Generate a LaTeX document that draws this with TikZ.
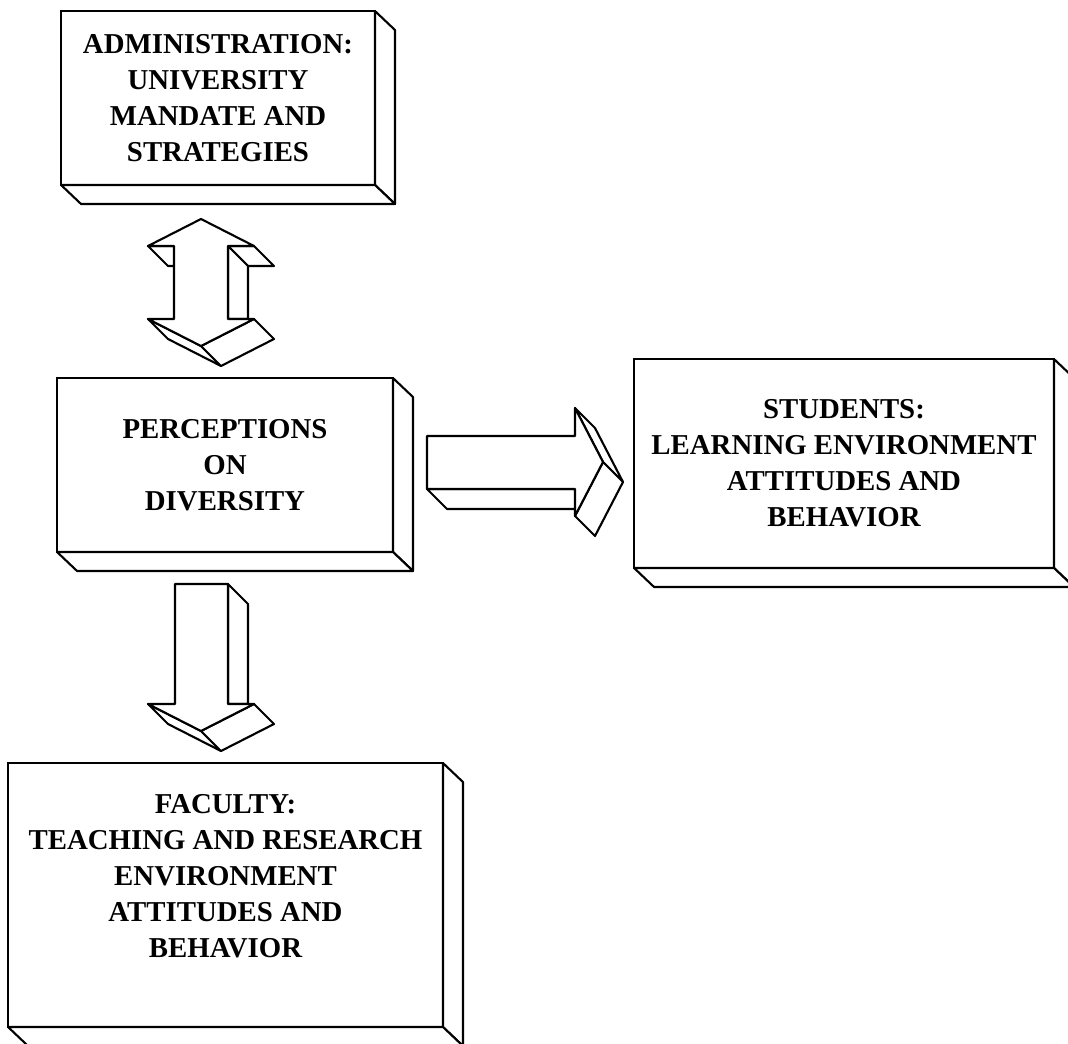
\documentclass[tikz,border=0pt]{standalone}
\usepackage{fontspec}
\setmainfont{Liberation Serif}
\usetikzlibrary{calc}

\tikzset{
  block/.style={draw,fill=white,line width=1.2pt,inner sep=0pt,outer sep=0pt,align=center,
    font=\bfseries\fontsize{16.4}{20.5}\selectfont},
  boxtext/.style={inner sep=0pt,align=center,font=\bfseries\fontsize{16.4}{20.5}\selectfont},
  face/.style={draw,fill=white,line width=1.2pt,line join=round},
}
% side and bottom of a box, pushed back to the lower right
\newcommand\boxdepth[1]{%
  \filldraw[face] (#1.north east) -- ++(20,19) -- ($(#1.south east)+(20,19)$) -- (#1.south east) -- cycle;
  \filldraw[face] (#1.south west) -- ++(20,19) -- ($(#1.south east)+(20,19)$) -- (#1.south east) -- cycle;}

\begin{document}
\begin{tikzpicture}[x=0.02cm,y=-0.02cm]
  \useasboundingbox (0,0) rectangle (1068,1044);
  \clip (0,0) rectangle (1068,1044);

  % boxes
  \node[block,minimum width=6.28cm,minimum height=3.48cm] (admin) at (218,98)
    {ADMINISTRATION:\\UNIVERSITY\\MANDATE AND\\STRATEGIES};
  \boxdepth{admin}
  \node[block,minimum width=6.72cm,minimum height=3.48cm] (perc) at (225,465)
    {PERCEPTIONS\\ON\\DIVERSITY};
  \boxdepth{perc}
  \node[block,minimum width=8.4cm,minimum height=4.18cm] (stud) at (844,463.5)
    {STUDENTS:\\LEARNING ENVIRONMENT\\ATTITUDES AND\\BEHAVIOR};
  \boxdepth{stud}
  \node[block,minimum width=8.7cm,minimum height=5.28cm] (fac) at (225.5,895) {};
  \boxdepth{fac}
  \node[boxtext] (factext) at ($(fac.center)+(0,-19)$)
    {FACULTY:\\TEACHING AND RESEARCH\\ENVIRONMENT\\ATTITUDES AND\\BEHAVIOR};

  % double arrow admin <-> perceptions
  \filldraw[face] (148,246) -- (174,246) -- (194,266) -- (168,266) -- cycle;
  \filldraw[face] (228,246) -- (254,246) -- (274,266) -- (248,266) -- cycle;
  \filldraw[face] (228,246) -- (248,266) -- (248,319) -- (228,319) -- cycle;
  \filldraw[face] (148,319) -- (201,346) -- (221,366) -- (168,339) -- cycle;
  \filldraw[face] (201,346) -- (254,319) -- (274,339) -- (221,366) -- cycle;
  \filldraw[face] (201,219) -- (254,246) -- (228,246) -- (228,319) -- (254,319) -- (201,346)
    -- (148,319) -- (174,319) -- (174,246) -- (148,246) -- cycle;

  % arrow perceptions -> faculty
  \filldraw[face] (228,584) -- (248,604) -- (248,704) -- (228,704) -- cycle;
  \filldraw[face] (148,704) -- (201,731) -- (221,751) -- (168,724) -- cycle;
  \filldraw[face] (201,731) -- (254,704) -- (274,724) -- (221,751) -- cycle;
  \filldraw[face] (175,584) -- (228,584) -- (228,704) -- (254,704) -- (201,731) -- (148,704)
    -- (175,704) -- cycle;

  % arrow perceptions -> students
  \filldraw[face] (427,489) -- (575,489) -- (595,509) -- (447,509) -- cycle;
  \filldraw[face] (575,408) -- (603,462) -- (623,482) -- (595,428) -- cycle;
  \filldraw[face] (603,462) -- (575,516) -- (595,536) -- (623,482) -- cycle;
  \filldraw[face] (427,436) -- (575,436) -- (575,408) -- (603,462) -- (575,516) -- (575,489)
    -- (427,489) -- cycle;
\end{tikzpicture}
\end{document}
